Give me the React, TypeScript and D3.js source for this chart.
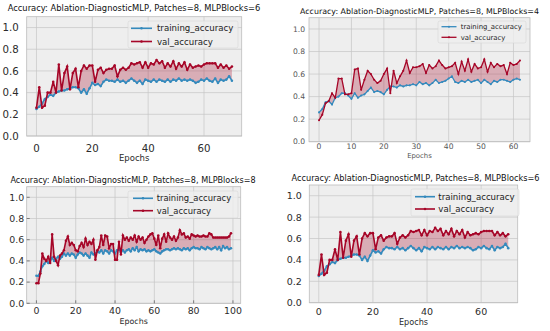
import React from "react";
import * as d3 from "d3";

// MLPBlocks=6 run (used by top-left and bottom-right panels)
const trainB6 = [
  0.25, 0.27, 0.3, 0.34, 0.36, 0.38, 0.37, 0.4, 0.41, 0.42,
  0.42, 0.43, 0.44, 0.45, 0.45, 0.44, 0.4, 0.43, 0.39, 0.44,
  0.49, 0.47, 0.48, 0.46, 0.5, 0.52, 0.51, 0.51, 0.5, 0.52,
  0.5, 0.51, 0.49, 0.51, 0.53, 0.51, 0.49, 0.51, 0.48, 0.52,
  0.51, 0.5, 0.52, 0.5, 0.52, 0.51, 0.5, 0.52, 0.5, 0.52,
  0.51, 0.53, 0.51, 0.52, 0.51, 0.52, 0.51, 0.49, 0.5, 0.52,
  0.51, 0.53, 0.51, 0.5, 0.53, 0.49, 0.52, 0.51, 0.52, 0.55,
  0.51,
];
const valB6 = [
  0.26, 0.45, 0.26, 0.28, 0.4, 0.4, 0.5, 0.4, 0.66, 0.42,
  0.58, 0.64, 0.43, 0.58, 0.62, 0.45, 0.6, 0.65, 0.62, 0.65,
  0.65, 0.5, 0.61, 0.63, 0.58, 0.61, 0.62, 0.62, 0.65, 0.55,
  0.61, 0.63, 0.61, 0.63, 0.67, 0.66, 0.67, 0.68, 0.63, 0.68,
  0.63, 0.67, 0.66, 0.7, 0.67, 0.69, 0.63, 0.67, 0.64, 0.69,
  0.62, 0.67, 0.64, 0.68, 0.61, 0.66, 0.63, 0.64, 0.65, 0.64,
  0.66, 0.67, 0.67, 0.67, 0.67, 0.63, 0.66, 0.63, 0.65, 0.62,
  0.64,
];

// MLPBlocks=4 run
const trainB4 = [
  0.26, 0.29, 0.35, 0.36, 0.33, 0.39, 0.4, 0.43, 0.43, 0.41,
  0.38, 0.43, 0.39, 0.41, 0.42, 0.45, 0.48, 0.44, 0.45, 0.44,
  0.42, 0.46, 0.49, 0.49, 0.48, 0.5, 0.49, 0.5, 0.5, 0.51,
  0.5, 0.53, 0.51, 0.52, 0.5, 0.52, 0.55, 0.52, 0.53, 0.54,
  0.56, 0.58, 0.53, 0.52, 0.54, 0.53, 0.55, 0.53, 0.54, 0.55,
  0.52, 0.55, 0.53, 0.51, 0.54, 0.53, 0.55, 0.55, 0.54, 0.53,
  0.55, 0.56, 0.55,
];
const valB4 = [
  0.19, 0.24, 0.34, 0.36, 0.43, 0.39, 0.56, 0.56, 0.42, 0.42,
  0.43, 0.64, 0.65, 0.46, 0.55, 0.63, 0.6, 0.55, 0.52, 0.54,
  0.6, 0.65, 0.43, 0.63, 0.52, 0.58, 0.63, 0.72, 0.61, 0.66,
  0.66, 0.67, 0.69, 0.61, 0.68, 0.65, 0.67, 0.72, 0.68, 0.65,
  0.66, 0.67, 0.7, 0.6, 0.71, 0.63, 0.73, 0.62, 0.69, 0.65,
  0.66, 0.73, 0.62, 0.7, 0.66, 0.69, 0.67, 0.68, 0.6, 0.7,
  0.68, 0.69, 0.72,
];

// MLPBlocks=8 run
const trainB8 = [
  0.26, 0.26, 0.3, 0.35, 0.37, 0.4, 0.38, 0.4, 0.43, 0.4,
  0.42, 0.44, 0.42, 0.44, 0.47, 0.45, 0.47, 0.45, 0.47, 0.46,
  0.43, 0.46, 0.48, 0.47, 0.45, 0.47, 0.45, 0.43, 0.48, 0.46,
  0.47, 0.49, 0.48, 0.5, 0.47, 0.5, 0.49, 0.47, 0.5, 0.49,
  0.47, 0.5, 0.51, 0.48, 0.5, 0.48, 0.5, 0.51, 0.49, 0.52,
  0.5, 0.53, 0.49, 0.51, 0.5, 0.51, 0.49, 0.5, 0.49, 0.5,
  0.51, 0.49, 0.48, 0.47, 0.49, 0.5, 0.51, 0.51, 0.5, 0.51,
  0.52, 0.51, 0.52, 0.51, 0.5, 0.52, 0.51, 0.52, 0.5, 0.52,
  0.53, 0.52, 0.52, 0.51, 0.53, 0.52, 0.51, 0.53, 0.52, 0.51,
  0.52, 0.53, 0.51, 0.53, 0.5, 0.54, 0.52, 0.53, 0.51, 0.52,
];
const valB8 = [
  0.19, 0.19, 0.28, 0.47, 0.42, 0.4, 0.44, 0.38, 0.65, 0.44,
  0.4, 0.36, 0.45, 0.47, 0.5, 0.59, 0.63, 0.55, 0.57, 0.55,
  0.5, 0.49, 0.54, 0.57, 0.53, 0.61, 0.55, 0.58, 0.56, 0.6,
  0.41, 0.5, 0.53, 0.64, 0.55, 0.64, 0.63, 0.52, 0.56, 0.56,
  0.41, 0.41, 0.58, 0.46, 0.64, 0.6, 0.62, 0.59, 0.62, 0.6,
  0.64, 0.58, 0.63, 0.6, 0.62, 0.57, 0.6, 0.63, 0.65, 0.66,
  0.61, 0.55, 0.64, 0.52, 0.61, 0.65, 0.58, 0.66, 0.62, 0.6,
  0.63, 0.59, 0.62, 0.69, 0.65, 0.66, 0.62, 0.63, 0.61, 0.65,
  0.64, 0.63, 0.64, 0.63, 0.63, 0.64, 0.63, 0.63, 0.66, 0.65,
  0.62, 0.62, 0.62, 0.62, 0.62, 0.62, 0.62, 0.62, 0.63, 0.66,
];

const yTicks = [0, 0.2, 0.4, 0.6, 0.8, 1.0];
const seriesNames = ["training_accuracy", "val_accuracy"];
const TRAIN = "#348ABD";
const VAL = "#A60628";
const FONT = "DejaVu Sans";

const panels = [
  {
    title: "Accuracy: Ablation-DiagnosticMLP, Patches=8, MLPBlocks=6",
    train: trainB6, val: valB6, xTicks: [0, 20, 40, 60],
    l: 26.7, r: 241.7, t: 16.7, b: 136,
    titleX: 134, titleY: 8, titleSize: 8.35,
    tickSize: 10.2, tickColor: "#2b2b2b", labelSize: 8.5, xTickY: 148, labelY: 157.5, yGap: 8,
    leg: { x: 128, y: 21, w: 110, h: 27, row1: 28.3, row2: 41.5, hx: 131, hw: 21, tx: 157, size: 8.6 },
    lw: 1.6, ticks: false,
  },
  {
    title: "Accuracy: Ablation-DiagnosticMLP, Patches=8, MLPBlocks=4",
    train: trainB4, val: valB4, xTicks: [0, 10, 20, 30, 40, 50, 60],
    l: 309, r: 530, t: 17.7, b: 141.7,
    titleX: 419.5, titleY: 10.7, titleSize: 7.9,
    tickSize: 7.6, tickColor: "#555555", labelSize: 6.9, xTickY: 146.7, labelY: 155.7, yGap: 4,
    leg: { x: 438, y: 21, w: 88, h: 22, row1: 26.7, row2: 37.3, hx: 441.5, hw: 15, tx: 460.7, size: 6.9 },
    lw: 1.3, ticks: false,
  },
  {
    title: "Accuracy: Ablation-DiagnosticMLP, Patches=8, MLPBlocks=8",
    train: trainB8, val: valB8, xTicks: [0, 20, 40, 60, 80, 100],
    l: 26.7, r: 240.7, t: 186.7, b: 303.3,
    titleX: 133, titleY: 180, titleSize: 8.1,
    tickSize: 9.4, tickColor: "#2b2b2b", labelSize: 7.9, xTickY: 310.7, labelY: 321, yGap: 2.5,
    leg: { x: 128, y: 191, w: 110, h: 27, row1: 198.3, row2: 210.7, hx: 133, hw: 20, tx: 156.7, size: 8.4 },
    lw: 1.6, ticks: true,
  },
  {
    title: "Accuracy: Ablation-DiagnosticMLP, Patches=8, MLPBlocks=6",
    train: trainB6, val: valB6, xTicks: [0, 20, 40, 60],
    l: 309.3, r: 517.7, t: 185, b: 302.7,
    titleX: 415.5, titleY: 177.7, titleSize: 8.2,
    tickSize: 9.5, tickColor: "#2b2b2b", labelSize: 8.1, xTickY: 311.7, labelY: 321.7, yGap: 7.5,
    leg: { x: 411, y: 189, w: 108, h: 27, row1: 196.7, row2: 209, hx: 415, hw: 20, tx: 438.3, size: 8.6 },
    lw: 1.6, ticks: false,
  },
];

type Panel = (typeof panels)[number];

const AccuracyPanel = ({ p }: { p: Panel }) => {
  const n = p.train.length;
  const pad = (n - 1) * 0.05;
  const x = d3.scaleLinear().domain([-pad, n - 1 + pad]).range([p.l, p.r]);
  const y = d3.scaleLinear().domain([0, 1.1]).range([p.b, p.t]);

  const line = d3.line<number>().x((_, i) => x(i)).y((d) => y(d));
  const band = d3
    .area<number>()
    .x((_, i) => x(i))
    .y0((_, i) => y(p.train[i]))
    .y1((d) => y(d));

  const lg = p.leg;
  const clipId = `clip-${p.l}-${p.t}`;
  const mr = p.lw * 0.8;

  return (
    <g>
      <text x={p.titleX} y={p.titleY + p.titleSize * 0.36} textAnchor="middle"
        fontSize={p.titleSize} fill="#111">{p.title}</text>

      <rect x={p.l} y={p.t} width={p.r - p.l} height={p.b - p.t} fill="#eeeeee" />
      <clipPath id={clipId}>
        <rect x={p.l} y={p.t} width={p.r - p.l} height={p.b - p.t} />
      </clipPath>

      {/* grid */}
      {yTicks.map((t) => (
        <line key={"gy" + t} x1={p.l} x2={p.r} y1={y(t)} y2={y(t)} stroke="#c6c6c6" strokeWidth={0.7} />
      ))}
      {p.xTicks.map((t) => (
        <line key={"gx" + t} x1={x(t)} x2={x(t)} y1={p.t} y2={p.b} stroke="#c6c6c6" strokeWidth={0.7} />
      ))}

      <g clipPath={`url(#${clipId})`}>
        <path d={band(p.val) ?? ""} fill={VAL} fillOpacity={0.28} />
        <path d={line(p.train) ?? ""} fill="none" stroke={TRAIN} strokeWidth={p.lw} />
        {p.train.map((d, i) => (
          <circle key={"t" + i} cx={x(i)} cy={y(d)} r={mr} fill={TRAIN} />
        ))}
        <path d={line(p.val) ?? ""} fill="none" stroke={VAL} strokeWidth={p.lw} />
        {p.val.map((d, i) => (
          <circle key={"v" + i} cx={x(i)} cy={y(d)} r={mr} fill={VAL} />
        ))}
      </g>

      <rect x={p.l} y={p.t} width={p.r - p.l} height={p.b - p.t} fill="none" stroke="#bcbcbc" strokeWidth={0.8} />

      {/* y axis */}
      {yTicks.map((t) => (
        <g key={"yl" + t}>
          {p.ticks && <line x1={p.l} x2={p.l + 3} y1={y(t)} y2={y(t)} stroke="#555" strokeWidth={0.7} />}
          <text x={p.l - p.yGap} y={y(t) + p.tickSize * 0.36} textAnchor="end"
            fontSize={p.tickSize} fill={p.tickColor}>{t.toFixed(1)}</text>
        </g>
      ))}
      {/* x axis */}
      {p.xTicks.map((t) => (
        <g key={"xl" + t}>
          {p.ticks && <line x1={x(t)} x2={x(t)} y1={p.b - 3} y2={p.b} stroke="#555" strokeWidth={0.7} />}
          <text x={x(t)} y={p.xTickY + p.tickSize * 0.36} textAnchor="middle"
            fontSize={p.tickSize} fill={p.tickColor}>{t}</text>
        </g>
      ))}
      <text x={(p.l + p.r) / 2} y={p.labelY + p.labelSize * 0.36} textAnchor="middle"
        fontSize={p.labelSize} fill={p.tickColor}>Epochs</text>

      {/* legend */}
      <rect x={lg.x} y={lg.y} width={lg.w} height={lg.h} rx={2} fill="#eeeeee" fillOpacity={0.8}
        stroke="#d6d6d6" strokeWidth={0.6} />
      {[TRAIN, VAL].map((c, k) => {
        const ry = k === 0 ? lg.row1 : lg.row2;
        return (
          <g key={"lg" + k}>
            <line x1={lg.hx} x2={lg.hx + lg.hw} y1={ry} y2={ry} stroke={c} strokeWidth={p.lw} />
            <circle cx={lg.hx + lg.hw / 2} cy={ry} r={mr} fill={c} />
            <text x={lg.tx} y={ry + lg.size * 0.36} fontSize={lg.size} fill="#222">{seriesNames[k]}</text>
          </g>
        );
      })}
    </g>
  );
};

export default function App() {
  return (
    <svg width={550} height={331} fontFamily={FONT}
      style={{ position: "absolute", left: 0, top: 0, background: "#ffffff" }}>
      {panels.map((p, i) => (
        <AccuracyPanel key={i} p={p} />
      ))}
    </svg>
  );
}
